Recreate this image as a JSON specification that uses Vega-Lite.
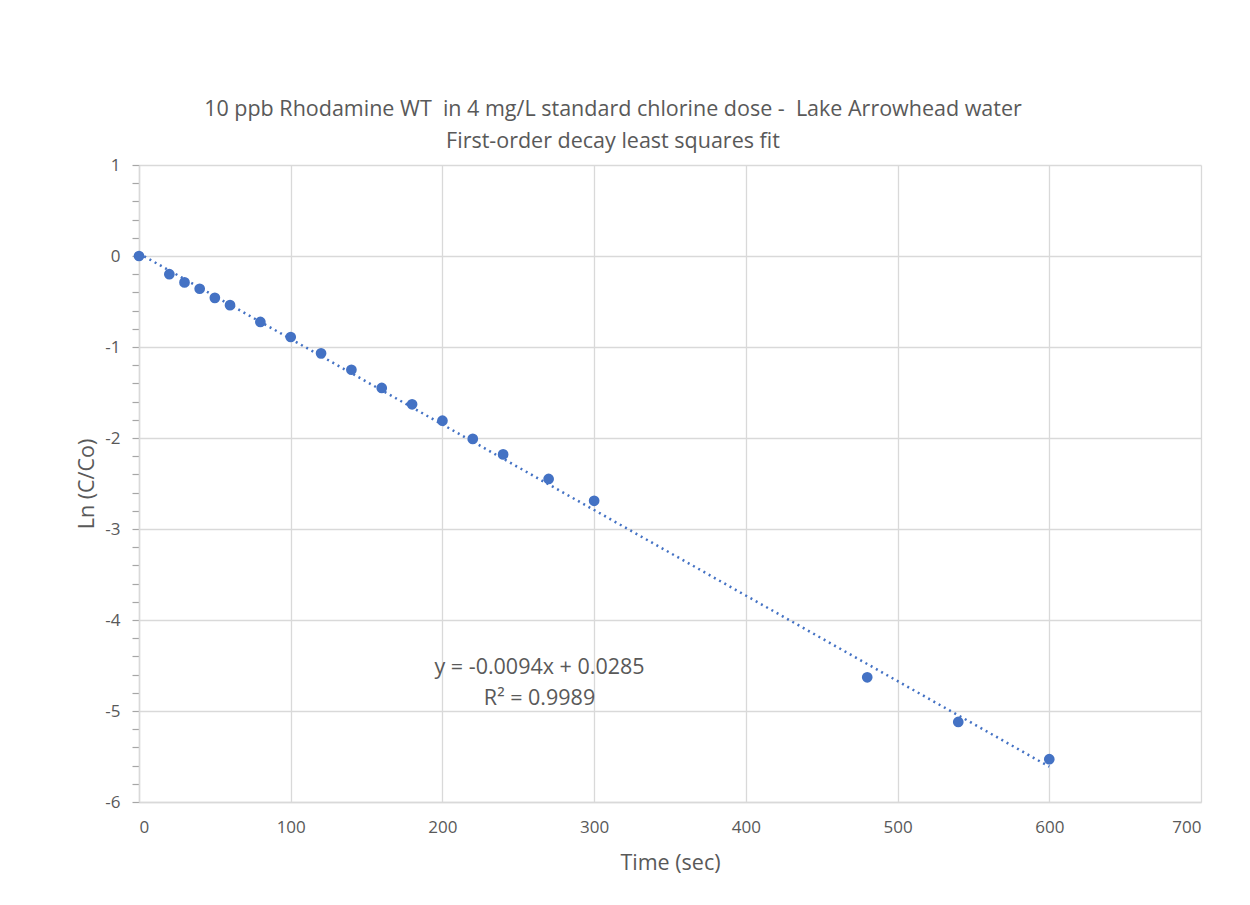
{
  "$schema": "https://vega.github.io/schema/vega-lite/v6.json",
  "autosize": "none",
  "width": 1062,
  "height": 637,
  "padding": {"left": 139, "top": 165, "right": 49, "bottom": 103},
  "background": "white",
  "config": {
    "font": "Open Sans",
    "view": {"stroke": null},
    "style": {"guide-label": {"fontSize": 17, "font": "Open Sans", "fill": "#595959"}, "guide-title": {"fontSize": 21.5, "font": "Open Sans", "fill": "#595959", "fontWeight": "normal"}},
    "axis": {"labelColor": "#595959", "titleColor": "#595959", "labelFont": "Open Sans", "titleFont": "Open Sans", "titleFontWeight": "normal", "labelFontSize": 17, "titleFontSize": 21.5}
  },
  "title": {
    "text": ["10 ppb Rhodamine WT \u00a0in 4 mg/L standard chlorine dose - \u00a0Lake Arrowhead water", "First-order decay least squares fit"],
    "fontSize": 21.5,
    "fontWeight": "normal",
    "color": "#595959",
    "lineHeight": 32,
    "anchor": "middle",
    "dx": -57,
    "offset": 4
  },
  "datasets": {
    "obs": [
      {"t": 0, "lnc": 0},
      {"t": 20, "lnc": -0.2},
      {"t": 30, "lnc": -0.29},
      {"t": 40, "lnc": -0.36},
      {"t": 50, "lnc": -0.46},
      {"t": 60, "lnc": -0.54},
      {"t": 80, "lnc": -0.725},
      {"t": 100, "lnc": -0.89},
      {"t": 120, "lnc": -1.07},
      {"t": 140, "lnc": -1.25},
      {"t": 160, "lnc": -1.45},
      {"t": 180, "lnc": -1.63},
      {"t": 200, "lnc": -1.81},
      {"t": 220, "lnc": -2.01},
      {"t": 240, "lnc": -2.18},
      {"t": 270, "lnc": -2.45},
      {"t": 300, "lnc": -2.69},
      {"t": 480, "lnc": -4.63},
      {"t": 540, "lnc": -5.12},
      {"t": 600, "lnc": -5.53}
    ],
    "fit": [
      {"t": 0, "lnc": 0.0285},
      {"t": 600, "lnc": -5.6115}
    ],
    "eq": [
      {"t": 264, "lnc": -4.53, "label": "y = -0.0094x + 0.0285"},
      {"t": 264, "lnc": -4.87, "label": "R² = 0.9989"}
    ]
  },
  "encoding": {
    "x": {
      "field": "t", "type": "quantitative",
      "scale": {"domain": [0, 700], "nice": false},
      "axis": {
        "values": [0, 100, 200, 300, 400, 500, 600, 700],
        "format": "d",
        "labelOverlap": false,
        "title": "Time (sec)", "titleFontSize": 21.5, "titlePadding": 17,
        "labelFontSize": 17, "labelPadding": 17, "ticks": false,
        "domainColor": "#d9d9d9", "domainWidth": 1.5,
        "gridColor": "#d9d9d9", "gridWidth": 1.3
      }
    },
    "y": {
      "field": "lnc", "type": "quantitative",
      "scale": {"domain": [-6, 1], "nice": false},
      "axis": {
        "values": [-6, -5.8, -5.6, -5.4, -5.2, -5, -4.8, -4.6, -4.4, -4.2, -4, -3.8, -3.6, -3.4, -3.2, -3, -2.8, -2.6, -2.4, -2.2, -2, -1.8, -1.6, -1.4, -1.2, -1, -0.8, -0.6, -0.4, -0.2, 0, 0.2, 0.4, 0.6, 0.8, 1],
        "tickCount": 100,
        "labelExpr": "abs(datum.value - round(datum.value)) < 0.001 ? '' + round(datum.value) : ''",
        "labelOverlap": false,
        "title": "Ln (C/Co)", "titleFontSize": 21.5, "titlePadding": 6,
        "labelFontSize": 17, "labelPadding": 12,
        "tickSize": 7, "tickColor": "#a6a6a6", "tickWidth": 1.2,
        "domainColor": "#d9d9d9", "domainWidth": 1.5,
        "gridColor": "#d9d9d9", "gridWidth": 1.3,
        "gridOpacity": {"condition": {"test": "abs(datum.value - round(datum.value)) < 0.001", "value": 1}, "value": 0}
      }
    }
  },
  "layer": [
    {
      "data": {"name": "fit"},
      "mark": {"type": "line", "color": "#4472C4", "strokeWidth": 2.5, "strokeDash": [2, 4]}
    },
    {
      "data": {"name": "obs"},
      "mark": {"type": "circle", "color": "#4472C4", "opacity": 1, "size": 115}
    },
    {
      "data": {"name": "eq"},
      "mark": {"type": "text", "font": "Open Sans", "fontSize": 21.5, "color": "#595959", "align": "center", "baseline": "middle"},
      "encoding": {
        "text": {"field": "label"}
      }
    }
  ]
}
